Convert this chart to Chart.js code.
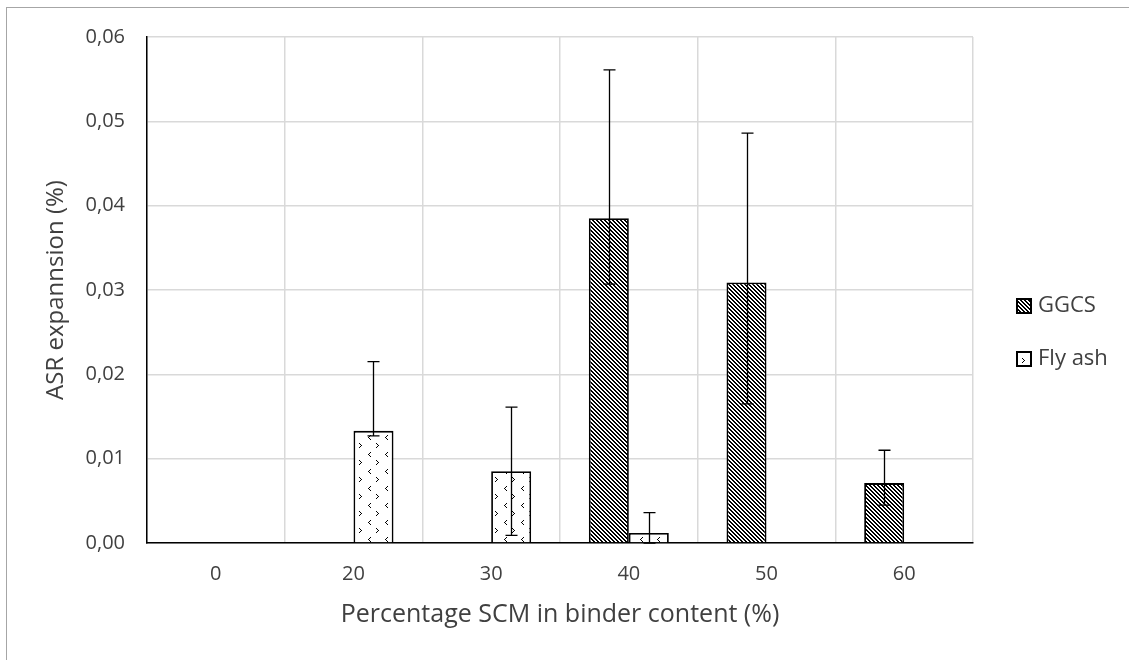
<!DOCTYPE html>
<html lang="en">
<head>
    <meta charset="UTF-8">
    <title>ASR expansion vs SCM content</title>
    <script src="https://cdn.jsdelivr.net/npm/chart.js"></script>
    <style>
        body {
            margin: 0;
            background-color: #fff;
        }
        .wrap {
            position: relative;
            width: 1129px;
            height: 660px;
            overflow: hidden;
        }
        .frame {
            position: absolute;
            left: 6px;
            top: 7px;
            width: 1200px;
            height: 700px;
            border-left: 1.5px solid #a6a6a6;
            border-top: 1.5px solid #a6a6a6;
        }
        canvas {
            position: absolute;
            left: 0;
            top: 0;
        }
    </style>
</head>
<body>

<div class="wrap">
    <div class="frame"></div>
    <canvas id="asrChart" width="1129" height="660"></canvas>
</div>

<script>
// Data
const categories = ['0', '20', '30', '40', '50', '60'];
const ggcsValues = [0, 0, 0, 0.0385, 0.0309, 0.0071];
const flyAshValues = [0, 0.0133, 0.0085, 0.0012, 0, 0];

// error bar ends (absolute values), null = no error bar
const ggcsErrTop = [null, null, null, 0.0561, 0.0486, 0.0110];
const ggcsErrBottom = [null, null, null, 0.0307, 0.0165, 0.0045];
const flyAshErrTop = [null, 0.0215, 0.0161, 0.0036, null, null];
const flyAshErrBottom = [null, 0.0127, 0.0009, 0, null, null];

const yTicks = [0, 0.01, 0.02, 0.03, 0.04, 0.05, 0.06];

const textColor = '#404040';
const fontFamily = '"Open Sans", sans-serif';

// Excel-like fill patterns
function makePattern(size, pixels) {
    const c = document.createElement('canvas');
    c.width = size;
    c.height = size;
    const g = c.getContext('2d');
    g.fillStyle = '#fff';
    g.fillRect(0, 0, size, size);
    g.fillStyle = '#000';
    pixels.forEach(p => g.fillRect(p[0], p[1], 1, 1));
    return document.getElementById('asrChart').getContext('2d').createPattern(c, 'repeat');
}

// dark downward diagonal
const diagPattern = makePattern(4, [[0, 0], [1, 0], [1, 1], [2, 1], [2, 2], [3, 2], [3, 3], [0, 3]]);
// small chevrons ("confetti" like)
const chevronPattern = makePattern(17, [
    [2, 1], [3, 2], [4, 3], [3, 4], [2, 5],
    [13, 10], [12, 11], [11, 12], [12, 13], [13, 14]
]);

const errorBars = [
    { top: ggcsErrTop, bottom: ggcsErrBottom },
    { top: flyAshErrTop, bottom: flyAshErrBottom }
];

// draws the error bars with the chart's own y scale
const errorBarPlugin = {
    id: 'errorBars',
    afterDatasetsDraw(chart) {
        const ctx = chart.ctx;
        const y = chart.scales.y;
        ctx.save();
        ctx.strokeStyle = '#000';
        ctx.lineWidth = 1.3;
        chart.data.datasets.forEach((ds, di) => {
            const meta = chart.getDatasetMeta(di);
            const err = errorBars[di];
            meta.data.forEach((bar, i) => {
                if (err.top[i] == null) return;
                const x = Math.round(bar.x) + 0.5;
                const yt = y.getPixelForValue(err.top[i]);
                const yb = y.getPixelForValue(err.bottom[i]);
                ctx.beginPath();
                ctx.moveTo(x, yt);
                ctx.lineTo(x, yb);
                ctx.moveTo(x - 6, yt);
                ctx.lineTo(x + 6, yt);
                ctx.moveTo(x - 6, yb);
                ctx.lineTo(x + 6, yb);
                ctx.stroke();
            });
        });
        ctx.restore();
    }
};

// legend on the right, like the Excel one
const sideLegendPlugin = {
    id: 'sideLegend',
    afterDraw(chart) {
        const ctx = chart.ctx;
        const x0 = chart.chartArea.right + 43;
        const rows = [306, 359];
        ctx.save();
        ctx.font = '22px ' + fontFamily;
        ctx.textBaseline = 'middle';
        chart.data.datasets.forEach((ds, i) => {
            const yc = rows[i];
            ctx.fillStyle = ds.backgroundColor;
            ctx.fillRect(x0, yc - 8, 16, 16);
            ctx.strokeStyle = '#000';
            ctx.lineWidth = 2;
            ctx.strokeRect(x0 + 1, yc - 7, 14, 14);
            ctx.fillStyle = textColor;
            ctx.fillText(ds.label, x0 + 22, yc);
        });
        ctx.restore();
    }
};

new Chart(document.getElementById('asrChart'), {
    type: 'bar',
    data: {
        labels: categories,
        datasets: [
            {
                label: 'GGCS',
                data: ggcsValues,
                backgroundColor: diagPattern,
                borderColor: '#000',
                borderWidth: 1.8
            },
            {
                label: 'Fly ash',
                data: flyAshValues,
                backgroundColor: chevronPattern,
                borderColor: '#000',
                borderWidth: 1.8
            }
        ]
    },
    options: {
        responsive: false,
        animation: false,
        devicePixelRatio: 1,
        layout: {
            padding: { left: 0, top: 37, right: 156, bottom: 0 }
        },
        datasets: {
            bar: {
                barPercentage: 1,
                categoryPercentage: 0.581
            }
        },
        plugins: {
            legend: { display: false },
            tooltip: { enabled: false }
        },
        scales: {
            x: {
                grid: {
                    color: '#d9d9d9',
                    lineWidth: 1.5,
                    drawTicks: false,
                    offset: true
                },
                border: { color: '#000', width: 1.5 },
                ticks: {
                    color: textColor,
                    font: { family: fontFamily, size: 20 },
                    padding: 19
                },
                title: {
                    display: true,
                    text: 'Percentage SCM in binder content (%)',
                    color: textColor,
                    font: { family: fontFamily, size: 25 },
                    padding: { top: 0, bottom: 30 }
                },
                afterFit(scale) {
                    scale.height = 117;
                }
            },
            y: {
                min: 0,
                max: 0.06,
                afterBuildTicks(scale) {
                    scale.ticks = yTicks.map(v => ({ value: v }));
                },
                grid: {
                    color: '#d9d9d9',
                    lineWidth: 1.5,
                    drawTicks: false
                },
                border: { color: '#000', width: 1.5 },
                ticks: {
                    color: textColor,
                    font: { family: fontFamily, size: 20 },
                    padding: 22,
                    callback: v => v.toFixed(2).replace('.', ',')
                },
                title: {
                    display: true,
                    text: 'ASR expannsion (%)',
                    color: textColor,
                    font: { family: fontFamily, size: 24 },
                    padding: { top: 42, bottom: 0 }
                },
                afterFit(scale) {
                    scale.width = 147;
                }
            }
        }
    },
    plugins: [errorBarPlugin, sideLegendPlugin]
});
</script>
</body>
</html>
